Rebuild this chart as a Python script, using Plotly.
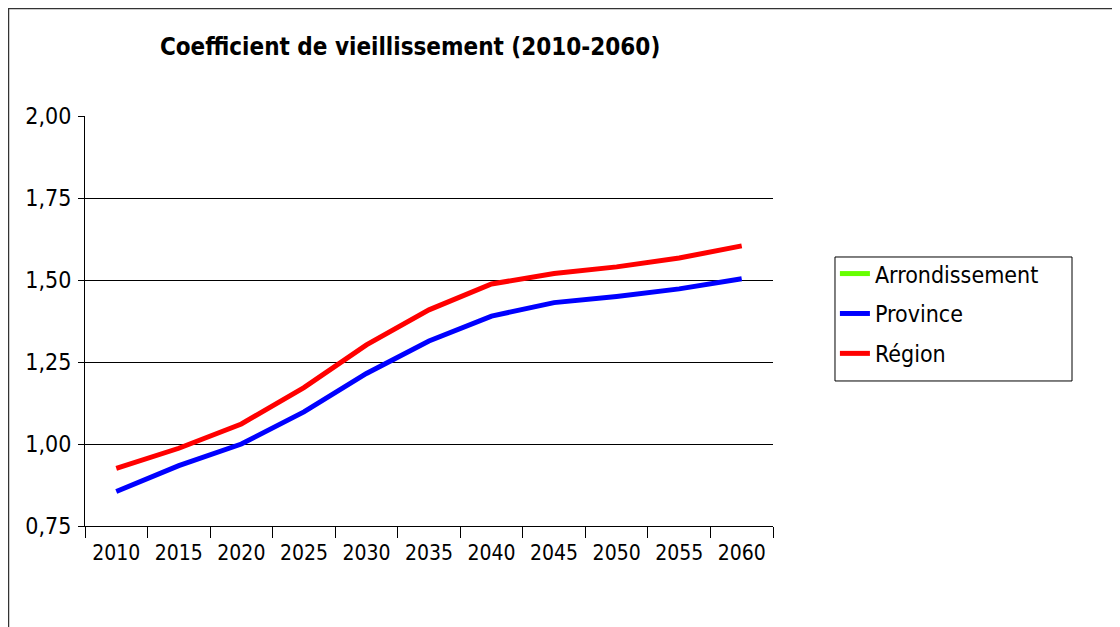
import plotly.graph_objects as go

years = ["2010", "2015", "2020", "2025", "2030", "2035", "2040", "2045", "2050", "2055", "2060"]
arrondissement = [None] * 11
province = [0.855, 0.934, 1.000, 1.098, 1.215, 1.314, 1.390, 1.431, 1.450, 1.473, 1.504]
region = [0.926, 0.987, 1.061, 1.172, 1.302, 1.409, 1.488, 1.520, 1.540, 1.567, 1.604]

FONT = "DejaVu Sans Condensed, Tahoma, DejaVu Sans, sans-serif"

fig = go.Figure()
fig.add_trace(go.Scatter(x=years, y=arrondissement, name="Arrondissement", mode="lines",
                         legendgroup="a", line=dict(color="#66FF00", width=5)))
fig.add_trace(go.Scatter(x=years, y=province, name="Province", mode="lines",
                         legendgroup="p", line=dict(color="#0000FF", width=5)))
fig.add_trace(go.Scatter(x=years, y=region, name="Région", mode="lines",
                         legendgroup="r", line=dict(color="#FF0000", width=5)))

fig.update_layout(
    width=1120, height=627,
    margin=dict(l=77, r=355, t=108, b=109),
    paper_bgcolor="white", plot_bgcolor="white",
    separators=", ",
    font=dict(family=FONT, size=20, color="black"),
    title=dict(text="<b>Coefficient de vieillissement (2010-2060)</b>",
               x=0.359, xanchor="center", y=0.938, yanchor="middle",
               font=dict(family=FONT, size=24, color="black")),
    showlegend=True,
    legend=dict(x=1.09, y=0.668, xanchor="left", yanchor="top",
                borderwidth=0, bgcolor="rgba(0,0,0,0)",
                font=dict(family=FONT, size=23, color="black"),
                tracegroupgap=7, itemwidth=30),
    xaxis=dict(type="category", range=[-0.5, 10.5], tickson="boundaries",
               ticks="outside", ticklen=11, tickcolor="black", tickwidth=1,
               ticklabelstandoff=8,
               showline=True, linecolor="black", linewidth=1, showgrid=False,
               tickfont=dict(family=FONT, size=21, color="black")),
    yaxis=dict(range=[0.75, 2.0], dtick=0.25, tick0=0.75, tickformat=".2f",
               ticks="outside", ticklen=6, tickcolor="black",
               ticklabelstandoff=2,
               showline=True, linecolor="black", linewidth=1,
               showgrid=True, gridcolor="black", gridwidth=1, zeroline=False,
               tickfont=dict(family=FONT, size=23, color="black")),
    shapes=[dict(type="rect", xref="paper", yref="paper",
                 x0=-0.1112, x1=2.0, y0=-1.0, y1=1.2622,
                 line=dict(color="#333333", width=1.5), layer="below"),
            dict(type="rect", xref="paper", yref="paper",
                 x0=1.0901, x1=1.4346, y0=0.3537, y1=0.6561,
                 line=dict(color="black", width=1), layer="below")],
)

fig.write_html("out.html")
